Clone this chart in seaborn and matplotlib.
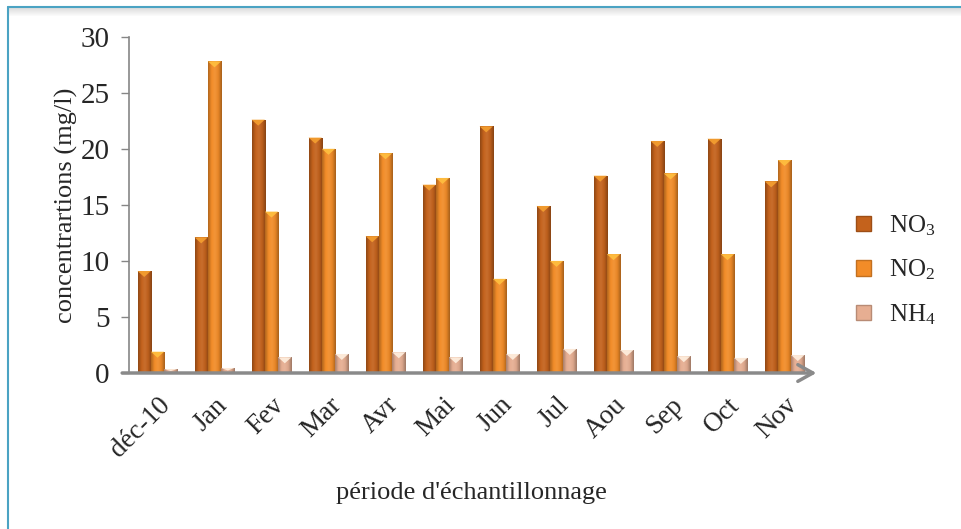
import numpy as np
import pandas as pd
import matplotlib
matplotlib.use("Agg")
import matplotlib.pyplot as plt
import seaborn as sns
from matplotlib.patches import Rectangle, Polygon
from matplotlib.lines import Line2D
from matplotlib.colors import LinearSegmentedColormap, to_rgb

# ---- data ----
months = ["déc-10", "Jan", "Fev", "Mar", "Avr", "Mai", "Jun", "Jul", "Aou", "Sep", "Oct", "Nov"]
no3 = [9.1, 12.1, 22.6, 21.0, 12.2, 16.8, 22.0, 14.9, 17.6, 20.7, 20.9, 17.1]
no2 = [1.9, 27.8, 14.4, 20.0, 19.6, 17.4, 8.4, 10.0, 10.6, 17.8, 10.6, 19.0]
nh4 = [0.35, 0.45, 1.4, 1.7, 1.85, 1.4, 1.7, 2.15, 2.05, 1.5, 1.35, 1.6]
series = ["NO3", "NO2", "NH4"]
series_labels = [r"NO$_3$", r"NO$_2$", r"NH$_4$"]
yticks = [0, 5, 10, 15, 20, 25, 30]

colors = ["#C4621C", "#F28C28", "#E6AE92"]
cap_colors = ["#F5A030", "#FFC040", "#FFF0E0"]

sns.set_theme(style="white")
plt.rcParams["font.family"] = ["Liberation Serif", "DejaVu Serif"]
plt.rcParams["mathtext.fontset"] = "custom"
plt.rcParams["mathtext.rm"] = "Liberation Serif"
plt.rcParams["mathtext.it"] = "Liberation Serif:italic"

df = pd.DataFrame({
    "mois": months * 3,
    "val": no3 + no2 + nh4,
    "ion": [s for s in series for _ in months],
})

fig = plt.figure(figsize=(9.62, 5.29), dpi=100)
ax = fig.add_axes([129 / 962, 1 - 373 / 529, (813 - 129) / 962, (373 - 36.7) / 529])

sns.barplot(data=df, x="mois", y="val", hue="ion", hue_order=series,
            order=months, palette=colors, width=0.7, saturation=1,
            edgecolor="none", ax=ax, legend=False)

ax.set_xlim(-0.5, 11.5)
ax.set_ylim(0, 30)


def shade(c, f):
    r = np.array(to_rgb(c))
    if f < 1:
        return tuple(r * f)
    return tuple(r + (1 - r) * (f - 1))


# gradient shading + bevel cap on each bar (geometry taken from seaborn's patches)
bars = list(ax.patches)
n = len(months)
px_per_unit = ax.bbox.height / 30.0
for i, patch in enumerate(bars):
    si = i // n
    base = colors[si]
    cmap = LinearSegmentedColormap.from_list(
        "g", [shade(base, 0.72), shade(base, 1.0), shade(base, 1.08), shade(base, 0.95), shade(base, 0.68)])
    x0, y0 = patch.get_x(), patch.get_y()
    w, h = patch.get_width(), patch.get_height()
    if h <= 0:
        continue
    grad = np.linspace(0, 1, 64).reshape(1, -1)
    im = ax.imshow(grad, extent=[x0, x0 + w, y0, y0 + h], aspect="auto",
                   cmap=cmap, zorder=patch.get_zorder() + 0.1, interpolation="bicubic")
    im.set_clip_path(patch)
    th = min(6.0 / px_per_unit, h * 0.5)
    tri = Polygon([[x0, y0 + h], [x0 + w, y0 + h], [x0 + w / 2, y0 + h - th]],
                  closed=True, facecolor=cap_colors[si], edgecolor="none",
                  zorder=patch.get_zorder() + 0.2, alpha=0.9)
    ax.add_patch(tri)
    patch.set_facecolor("none")

ax.set_xlim(-0.5, 11.5)
ax.set_ylim(0, 30)
ax.set_yticks(yticks)
ax.set_yticklabels([str(t) for t in yticks], fontsize=21)
ax.set_xticks(range(len(months)))
ax.set_xticklabels(months, rotation=45, ha="right", rotation_mode="anchor", fontsize=19.5)
ax.tick_params(axis="y", length=6, width=1, color="#868686", pad=8, left=True)
ax.tick_params(axis="x", length=0, pad=14)

ax.set_ylabel("concentrartions (mg/l)", fontsize=19, labelpad=2)
ax.set_xlabel("période d'échantillonnage", fontsize=19, labelpad=14)

for s in ["top", "right", "bottom"]:
    ax.spines[s].set_visible(False)
ax.spines["left"].set_color("#868686")
ax.spines["left"].set_linewidth(1.2)

# x axis arrow
ax.annotate("", xy=(1.005, 0), xycoords="axes fraction",
            xytext=(-0.01, 0), textcoords="axes fraction",
            arrowprops=dict(arrowstyle="->,head_length=0.9,head_width=0.5",
                            color="#8A8A8A", lw=2.5, shrinkA=0, shrinkB=0))

# legend
handles = [Rectangle((0, 0), 1, 1, facecolor=c, edgecolor=shade(c, 0.8)) for c in colors]
fig.legend(handles, series_labels, loc="center left", bbox_to_anchor=(856 / 962, 1 - 270 / 529),
           frameon=False, fontsize=18, labelspacing=0.8, handlelength=0.58,
           handleheight=0.58, handletextpad=0.75, borderpad=0, borderaxespad=0)

# frame
for k in range(8):
    fig.add_artist(Rectangle((8 / 962, 1 - (8 + k + 1) / 529), 1, 1 / 529, transform=fig.transFigure,
                             facecolor="#D0D0D0", alpha=0.7 * (1 - k / 8), edgecolor="none", zorder=0))
fig.add_artist(Line2D([8 / 962, 8 / 962], [0, 1 - 7 / 529], transform=fig.transFigure,
                      color="#4BA3C3", lw=1.5))
fig.add_artist(Line2D([8 / 962, 1], [1 - 7 / 529, 1 - 7 / 529], transform=fig.transFigure,
                      color="#4BA3C3", lw=1.5))

fig.savefig("out.png", dpi=100)
